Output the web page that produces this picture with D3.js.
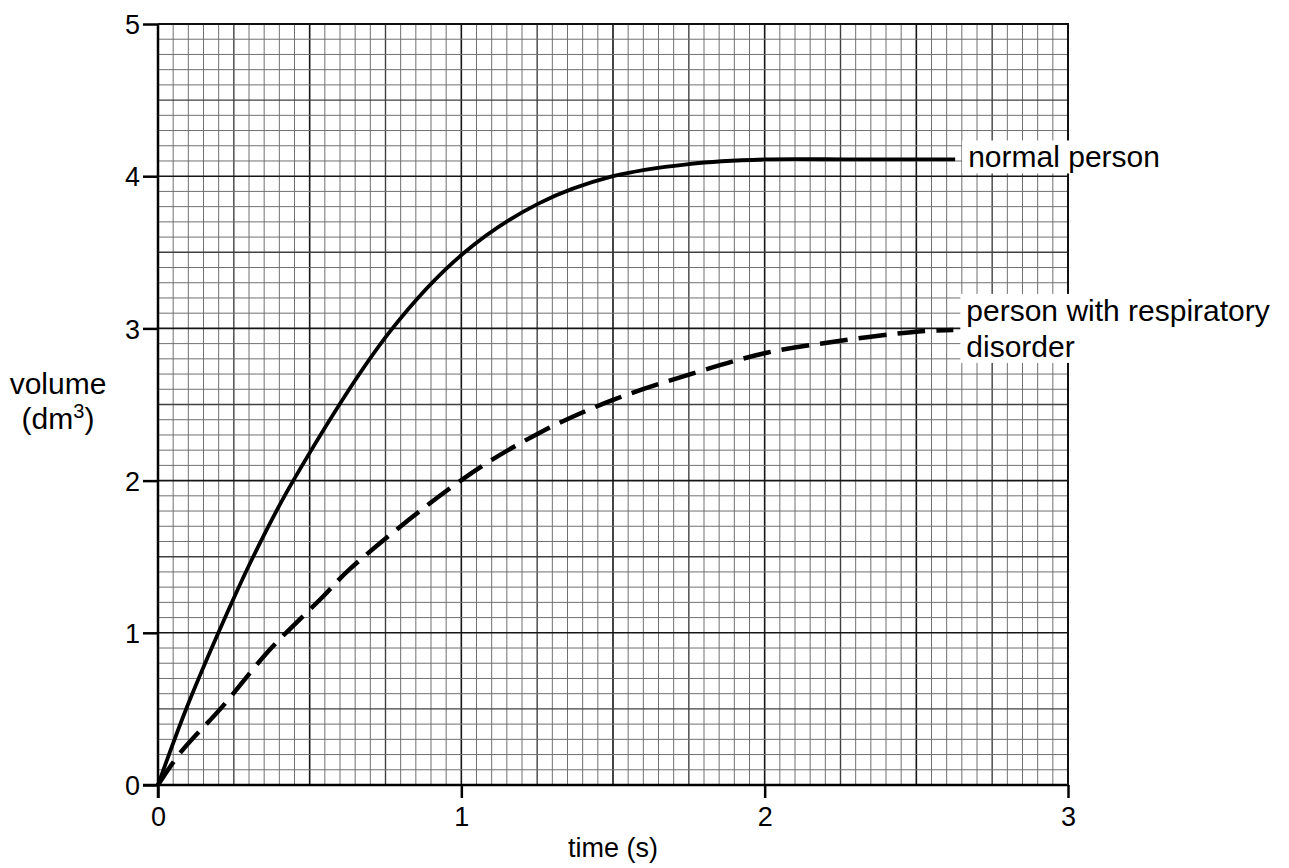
<!DOCTYPE html>
<html>
<head>
<meta charset="utf-8">
<script src="https://cdn.jsdelivr.net/npm/d3@7"></script>
<style>
  body { margin: 0; background: #fff; }
  svg { display: block; font-family: "Liberation Sans", Arial, Helvetica, sans-serif; }
</style>
</head>
<body>
<div id="chart"></div>
<script>
// values: time (s) and volume (dm3)
const normalTime = [0, 0.089, 0.199, 0.309, 0.446, 0.765, 1.005, 1.254, 1.5, 1.75, 2.0, 2.3, 2.628];
const normalVol  = [0, 0.48, 1.0, 1.48, 2.0, 2.98, 3.49, 3.82, 4.0, 4.08, 4.11, 4.11, 4.11];

const disorderTime = [0, 0.073, 0.21, 0.369, 0.545, 0.633, 1.005, 1.254, 1.5, 1.756, 2.007, 2.256, 2.507, 2.622];
const disorderVol  = [0, 0.21, 0.51, 0.89, 1.24, 1.42, 2.01, 2.31, 2.53, 2.70, 2.84, 2.92, 2.98, 2.99];

const xTicks = [0, 1, 2, 3];
const yTicks = [0, 1, 2, 3, 4, 5];

// set the dimensions and margins of the graph
const W = 1289, H = 868;
const margin = {top: 24, right: 221, bottom: 83, left: 158},
    width = W - margin.left - margin.right,
    height = H - margin.top - margin.bottom;

const svg = d3.select("#chart")
    .append("svg")
    .attr("width", W)
    .attr("height", H)
    .append("g")
    .attr("transform", `translate(${margin.left},${margin.top})`);

const x = d3.scaleLinear().domain([0, 3]).range([0, width]);
const y = d3.scaleLinear().domain([0, 5]).range([height, 0]);

// graph paper grid: minor, medium and major lines
const grid = svg.append("g");
const eps = 1e-6;
const xs = d3.range(0, 3 + eps, 0.05);
const ys = d3.range(0, 5 + eps, 0.1);
function level(v, med, maj) {
    if (Math.abs(v / maj - Math.round(v / maj)) < 1e-4) return 2;
    if (Math.abs(v / med - Math.round(v / med)) < 1e-4) return 1;
    return 0;
}
const gridStroke = ["#707070", "#404040", "#161616"];
const gridWidth = [1, 1.4, 1.6];

grid.selectAll("line.vx")
    .data(xs)
    .join("line")
    .attr("x1", d => x(d)).attr("x2", d => x(d))
    .attr("y1", 0).attr("y2", height)
    .attr("stroke", d => gridStroke[level(d, 0.25, 0.5)])
    .attr("stroke-width", d => gridWidth[level(d, 0.25, 0.5)]);

grid.selectAll("line.hy")
    .data(ys)
    .join("line")
    .attr("y1", d => y(d)).attr("y2", d => y(d))
    .attr("x1", 0).attr("x2", width)
    .attr("stroke", d => gridStroke[level(d, 0.5, 1)])
    .attr("stroke-width", d => gridWidth[level(d, 0.5, 1)]);

// axes
const xAxis = svg.append("g")
    .attr("transform", `translate(0,${height})`)
    .call(d3.axisBottom(x).tickValues(xTicks).tickFormat(d3.format("d")).tickSize(13).tickPadding(5));
const yAxis = svg.append("g")
    .call(d3.axisLeft(y).tickValues(yTicks).tickFormat(d3.format("d")).tickSize(15).tickPadding(3));

[xAxis, yAxis].forEach(a => {
    a.select(".domain").attr("stroke", "#000").attr("stroke-width", 2.5);
    a.selectAll(".tick line").attr("stroke", "#000").attr("stroke-width", 2.5);
    a.selectAll(".tick text").attr("fill", "#000").style("font-size", "27px");
});
xAxis.selectAll(".tick text").attr("dy", "0.85em");
yAxis.selectAll(".tick text").attr("dy", "0.36em");
xAxis.select(".domain").attr("d", `M-15,0H${width}`);
yAxis.select(".domain").attr("d", `M0,0V${height + 13}`);

// top and right border
svg.append("path")
    .attr("d", `M0,0H${width}V${height}`)
    .attr("fill", "none")
    .attr("stroke", "#111")
    .attr("stroke-width", 2);

// the curves
const line = d3.line()
    .x(d => x(d[0]))
    .y(d => y(d[1]))
    .curve(d3.curveCatmullRom.alpha(0.5));

const normalData = normalTime.map((t, i) => [t, normalVol[i]]);
const disorderData = disorderTime.map((t, i) => [t, disorderVol[i]]);

svg.append("path")
    .datum(normalData)
    .attr("d", line)
    .attr("fill", "none")
    .attr("stroke", "#000")
    .attr("stroke-width", 3.8);

svg.append("path")
    .datum(disorderData)
    .attr("d", line)
    .attr("fill", "none")
    .attr("stroke", "#000")
    .attr("stroke-width", 4.5)
    .attr("stroke-dasharray", "28,11");

// labels with white box behind them
function addLabel(last, lines, dyFirst) {
    const g = svg.append("g");
    const bg = g.append("rect").attr("fill", "#fff");
    const t = g.append("text")
        .attr("x", x(last[0]) + 13)
        .attr("y", y(last[1]) + dyFirst)
        .style("font-size", "30px")
        .attr("fill", "#000");
    lines.forEach((s, i) => {
        t.append("tspan")
            .attr("x", x(last[0]) + 13)
            .attr("dy", i === 0 ? 0 : 36)
            .text(s);
    });
    const b = t.node().getBBox();
    bg.attr("x", b.x - 6).attr("y", b.y)
        .attr("width", b.width + 12).attr("height", b.height);
}
addLabel(normalData[normalData.length - 1], ["normal person"], 8);
addLabel(disorderData[disorderData.length - 1], ["person with respiratory", "disorder"], -9);

// axis titles
svg.append("text")
    .attr("x", x(1.5))
    .attr("y", height + 72)
    .attr("text-anchor", "middle")
    .style("font-size", "27px")
    .attr("fill", "#000")
    .text("time (s)");

const yt = svg.append("text")
    .attr("x", -margin.left + 58)
    .attr("y", y(2.6) + 5)
    .attr("text-anchor", "middle")
    .style("font-size", "30px")
    .attr("fill", "#000");
yt.append("tspan").attr("x", -margin.left + 58).text("volume");
const yt2 = yt.append("tspan").attr("x", -margin.left + 58).attr("dy", 35);
yt2.append("tspan").text("(dm");
yt2.append("tspan").attr("dy", -11).style("font-size", "20px").text("3");
yt2.append("tspan").attr("dy", 11).text(")");
</script>
</body>
</html>
